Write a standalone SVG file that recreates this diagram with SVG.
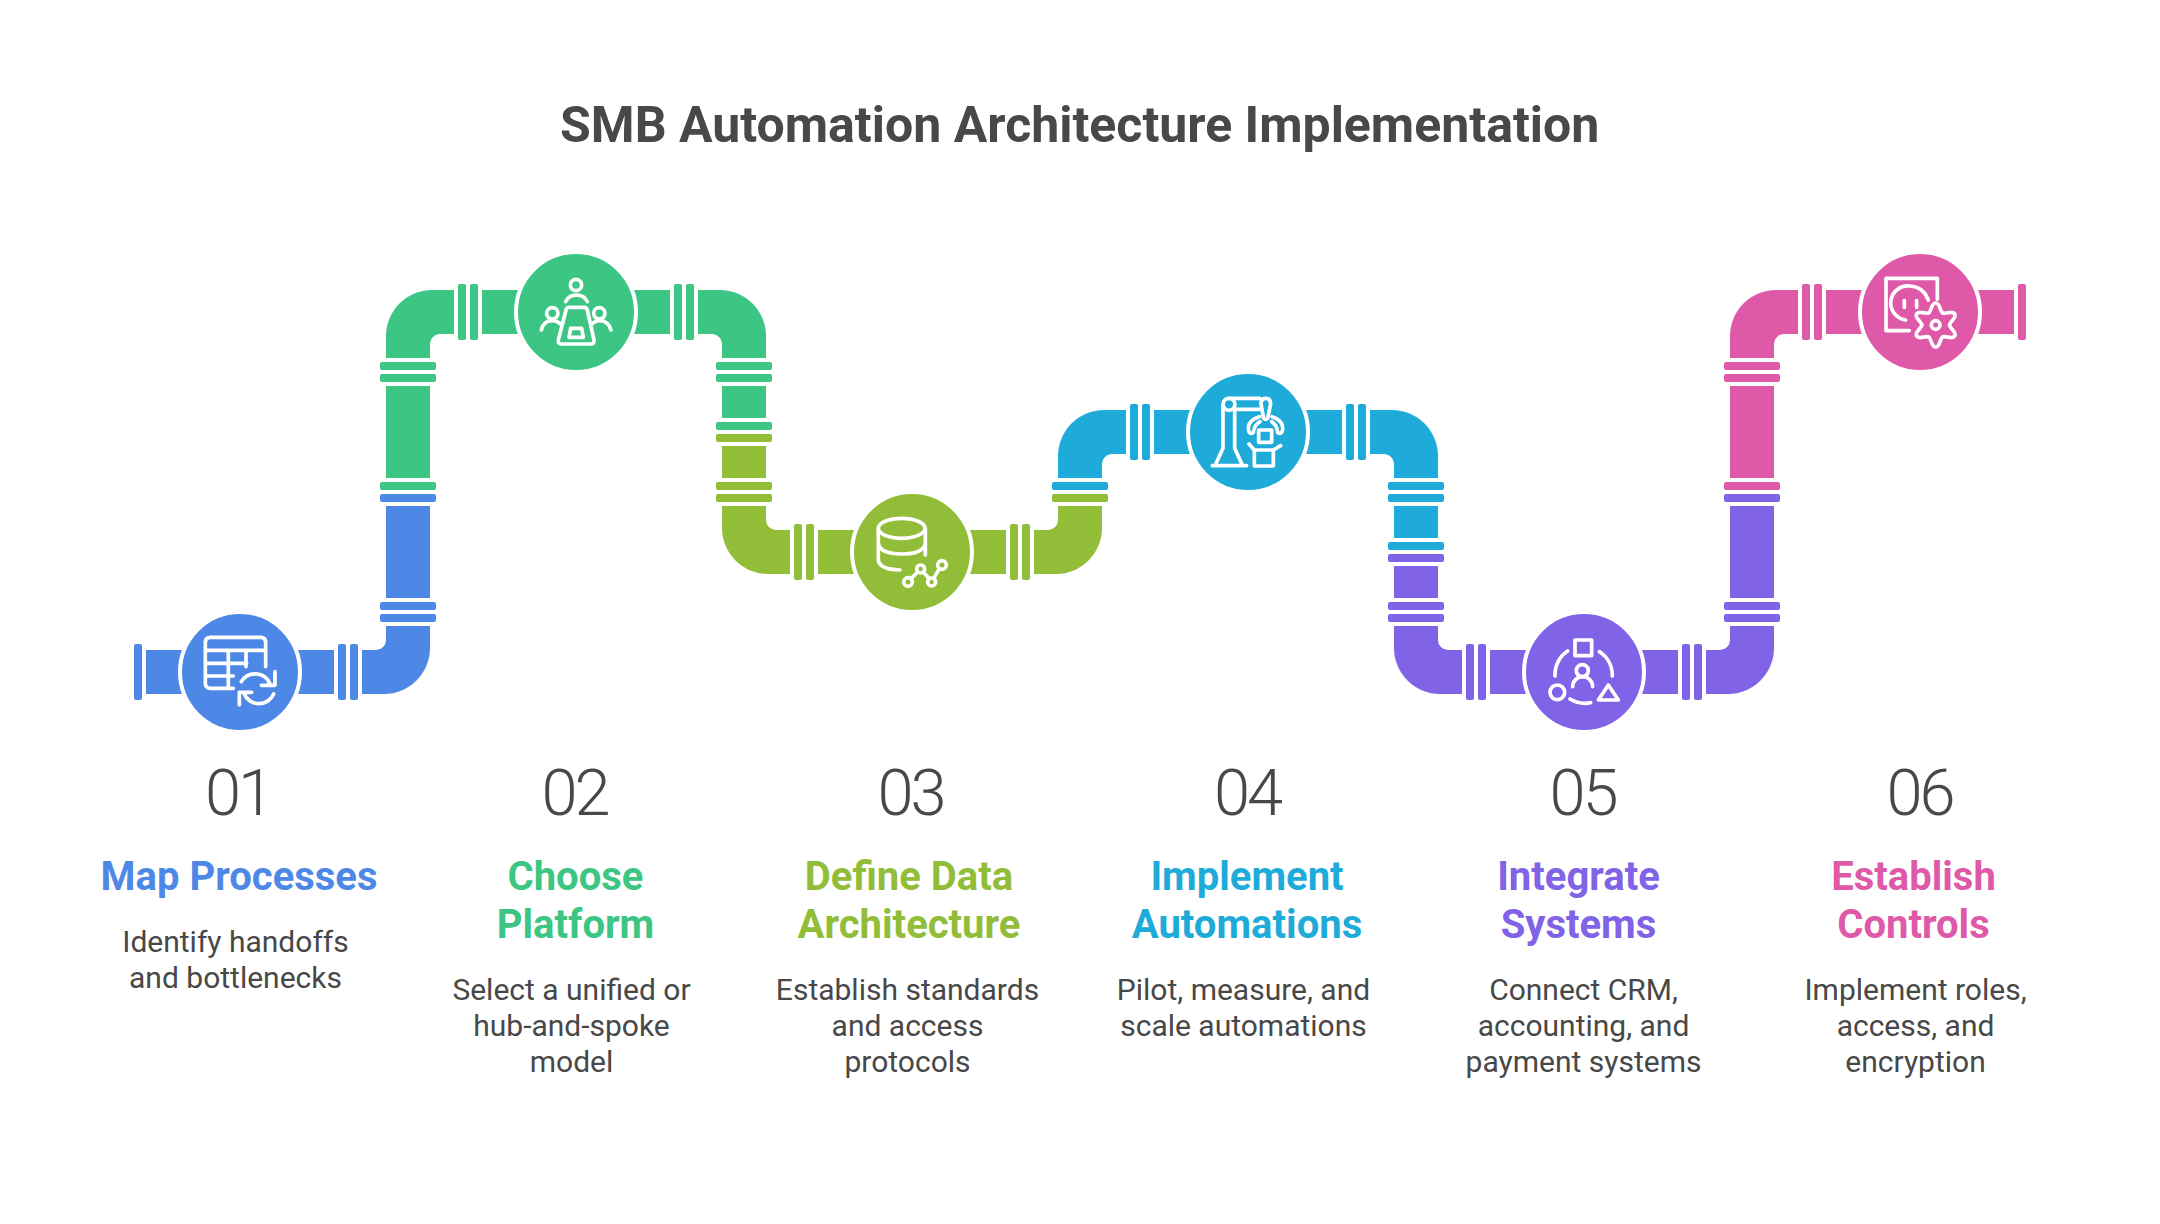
<svg xmlns="http://www.w3.org/2000/svg" xmlns:xlink="http://www.w3.org/1999/xlink" width="2160" height="1224" viewBox="0 0 2160 1224">
<style>
text{font-family:Roboto,"Liberation Sans",sans-serif;text-anchor:middle}
.title{font-size:50px;font-weight:700;fill:#484848}
.num{font-size:65px;font-weight:300;fill:#484848;letter-spacing:-3px}
.hd{font-size:40px;font-weight:700}
.bd{font-size:30px;font-weight:400;fill:#484848}
.ring{stroke:#fff;stroke-width:4}
.ic{fill:none;stroke:#fff;stroke-width:11;stroke-linecap:round;stroke-linejoin:round}
.c1{fill:#4e88e7}.c2{fill:#3cc583}.c3{fill:#92bd39}.c4{fill:#1eabda}.c5{fill:#8063e6}.c6{fill:#de5aa8}
.v{width:56px;height:8px;rx:2px}
.h{width:8px;height:56px;rx:2px}
</style>
<defs><path id="lobe" d="M208 192.1C216.7 187.1 214 165 227 165C240 165 237.3 187.1 246 192.1"/></defs>
<rect width="2160" height="1224" fill="#fff"/>
<text class="title" x="1079.7" y="142">SMB Automation Architecture Implementation</text>
<g id="connectors">
<g class="c1">
<rect class="h" x="134" y="644"/>
<rect x="146" y="650" width="188" height="44"/>
<rect class="h" x="338" y="644"/><rect class="h" x="350" y="644"/>
<path d="M362 650H376A10 10 0 0 0 386 640V626H430V648A46 46 0 0 1 384 694H362Z"/>
<rect class="v" x="380" y="614"/><rect class="v" x="380" y="602"/>
<rect x="386" y="506" width="44" height="92"/>
<rect class="v" x="380" y="494"/>
</g>
<g class="c2">
<rect class="v" x="380" y="482"/>
<rect x="386" y="386" width="44" height="92"/>
<rect class="v" x="380" y="374"/><rect class="v" x="380" y="362"/>
<path d="M454 290H432A46 46 0 0 0 386 336V358H430V344A10 10 0 0 1 440 334H454Z"/>
<rect class="h" x="458" y="284"/><rect class="h" x="470" y="284"/>
<rect x="482" y="290" width="188" height="44"/>
<rect class="h" x="674" y="284"/><rect class="h" x="686" y="284"/>
<path d="M698 290H720A46 46 0 0 1 766 336V358H722V344A10 10 0 0 0 712 334H698Z"/>
<rect class="v" x="716" y="362"/><rect class="v" x="716" y="374"/>
<rect x="722" y="386" width="44" height="32"/>
<rect class="v" x="716" y="422"/>
</g>
<g class="c3">
<rect class="v" x="716" y="434"/>
<rect x="722" y="446" width="44" height="32"/>
<rect class="v" x="716" y="482"/><rect class="v" x="716" y="494"/>
<path d="M722 506V528A46 46 0 0 0 768 574H790V530H776A10 10 0 0 1 766 520V506Z"/>
<rect class="h" x="794" y="524"/><rect class="h" x="806" y="524"/>
<rect x="818" y="530" width="188" height="44"/>
<rect class="h" x="1010" y="524"/><rect class="h" x="1022" y="524"/>
<path d="M1034 530H1048A10 10 0 0 0 1058 520V506H1102V528A46 46 0 0 1 1056 574H1034Z"/>
<rect class="v" x="1052" y="494"/>
</g>
<g class="c4">
<rect class="v" x="1052" y="482"/>
<path d="M1126 410H1104A46 46 0 0 0 1058 456V478H1102V464A10 10 0 0 1 1112 454H1126Z"/>
<rect class="h" x="1130" y="404"/><rect class="h" x="1142" y="404"/>
<rect x="1154" y="410" width="188" height="44"/>
<rect class="h" x="1346" y="404"/><rect class="h" x="1358" y="404"/>
<path d="M1370 410H1392A46 46 0 0 1 1438 456V478H1394V464A10 10 0 0 0 1384 454H1370Z"/>
<rect class="v" x="1388" y="482"/><rect class="v" x="1388" y="494"/>
<rect x="1394" y="506" width="44" height="32"/>
<rect class="v" x="1388" y="542"/>
</g>
<g class="c5">
<rect class="v" x="1388" y="554"/>
<rect x="1394" y="566" width="44" height="32"/>
<rect class="v" x="1388" y="602"/><rect class="v" x="1388" y="614"/>
<path d="M1394 626V648A46 46 0 0 0 1440 694H1462V650H1448A10 10 0 0 1 1438 640V626Z"/>
<rect class="h" x="1466" y="644"/><rect class="h" x="1478" y="644"/>
<rect x="1490" y="650" width="188" height="44"/>
<rect class="h" x="1682" y="644"/><rect class="h" x="1694" y="644"/>
<path d="M1706 650H1720A10 10 0 0 0 1730 640V626H1774V648A46 46 0 0 1 1728 694H1706Z"/>
<rect class="v" x="1724" y="614"/><rect class="v" x="1724" y="602"/>
<rect x="1730" y="506" width="44" height="92"/>
<rect class="v" x="1724" y="494"/>
</g>
<g class="c6">
<rect class="v" x="1724" y="482"/>
<rect x="1730" y="386" width="44" height="92"/>
<rect class="v" x="1724" y="374"/><rect class="v" x="1724" y="362"/>
<path d="M1798 290H1776A46 46 0 0 0 1730 336V358H1774V344A10 10 0 0 1 1784 334H1798Z"/>
<rect class="h" x="1802" y="284"/><rect class="h" x="1814" y="284"/>
<rect x="1826" y="290" width="188" height="44"/>
<rect class="h" x="2018" y="284"/>
</g>
</g>
<g id="node-1">
<circle class="c1 ring" cx="240" cy="672" r="60"/>
<g class="ic" transform="translate(170 610) scale(.3333)">
<path d="M190 235H122Q106 235 106 220V98Q106 82 122 82H272Q287 82 287 98V170M106 121H287M106 160H230M106 198H190M175 121V235M228 121V170"/>
<path d="M214 215A48 48 0 0 1 300 222M315 185V226H274M311 252A48 48 0 0 1 222 250M208 285V247H245"/>
</g>
<text class="num" x="238" y="815">01</text>
<text class="hd c1" x="239" y="889.5">Map Processes</text>
<text class="bd" x="235.5" y="951.5">Identify handoffs</text>
<text class="bd" x="235.5" y="987.5">and bottlenecks</text>
</g>
<g id="node-2">
<circle class="c2 ring" cx="576" cy="312" r="60"/>
<g class="ic" transform="translate(510 250) scale(.3333)">
<circle cx="198" cy="105" r="17"/><path d="M167 155A36 34 0 0 1 232 155"/>
<circle cx="127" cy="190" r="17"/><path d="M94 240Q100 212 127 212Q142 212 155 225"/>
<circle cx="268" cy="190" r="17"/><path d="M243 225Q255 212 268 212Q295 212 303 240"/>
<path d="M178 172H222Q230 172 232 180L252 270Q254 282 242 282H155Q143 282 145 270L168 180Q170 172 178 172Z"/>
<path d="M182 235H215L220 262H177Z"/>
</g>
<text class="num" x="574.5" y="815">02</text>
<text class="hd c2" x="575.5" y="889.5">Choose</text>
<text class="hd c2" x="575.5" y="937.5">Platform</text>
<text class="bd" x="571.5" y="999.5">Select a unified or</text>
<text class="bd" x="571.5" y="1035.5">hub-and-spoke</text>
<text class="bd" x="571.5" y="1071.5">model</text>
</g>
<g id="node-3">
<circle class="c3 ring" cx="912" cy="552" r="60"/>
<g class="ic" transform="translate(850 490) scale(.3333)">
<ellipse cx="155" cy="115" rx="70" ry="30"/>
<path d="M85 115V210Q88 238 150 240M226 115V195M85 160Q90 192 155 192Q220 192 226 160"/>
<circle cx="174" cy="276" r="13"/><circle cx="212" cy="237" r="12"/><circle cx="245" cy="276" r="12"/><circle cx="276" cy="225" r="13"/>
<path d="M183 266L203 246M220 247L238 266M251 265L268 236"/>
</g>
<text class="num" x="910.5" y="815">03</text>
<text class="hd c3" x="909" y="889.5">Define Data</text>
<text class="hd c3" x="909" y="937.5">Architecture</text>
<text class="bd" x="907.5" y="999.5">Establish standards</text>
<text class="bd" x="907.5" y="1035.5">and access</text>
<text class="bd" x="907.5" y="1071.5">protocols</text>
</g>
<g id="node-4">
<circle class="c4 ring" cx="1248" cy="432" r="60"/>
<g class="ic" transform="translate(1180 370) scale(.3333)">
<circle cx="147" cy="103" r="18"/>
<path d="M129 103V235L105 287M164 115V235L188 287M97 287H200M147 85H240M165 118H238"/>
<path d="M243 102Q243 85 257 85Q272 85 272 102L263 145Q257 152 251 145Z"/>
<path d="M238 140Q203 150 205 178Q207 195 220 188Q222 165 240 155M276 140Q310 150 308 178Q306 195 293 188Q291 165 275 155"/>
<path d="M236 180H275V217H236Z"/>
<path d="M207 222L223 240H280L302 227M223 240V288H280V240"/>
</g>
<text class="num" x="1247" y="815">04</text>
<text class="hd c4" x="1247" y="889.5">Implement</text>
<text class="hd c4" x="1247" y="937.5">Automations</text>
<text class="bd" x="1243.5" y="999.5">Pilot, measure, and</text>
<text class="bd" x="1243.5" y="1035.5">scale automations</text>
</g>
<g id="node-5">
<circle class="c5 ring" cx="1584" cy="672" r="60"/>
<g class="ic" transform="translate(1520 610) scale(.3333)">
<rect x="165" y="90" width="50" height="47"/>
<circle cx="187" cy="182" r="18"/>
<path d="M158 230A30 30 0 0 1 218 230"/>
<circle cx="112" cy="247" r="22"/>
<path d="M265 225L295 270H235Z"/>
<path d="M143 123A85 85 0 0 0 105 198M238 125A85 85 0 0 1 277 198M150 267Q180 285 212 278"/>
</g>
<text class="num" x="1582.5" y="815">05</text>
<text class="hd c5" x="1578.5" y="889.5">Integrate</text>
<text class="hd c5" x="1578.5" y="937.5">Systems</text>
<text class="bd" x="1583.5" y="999.5">Connect CRM,</text>
<text class="bd" x="1583.5" y="1035.5">accounting, and</text>
<text class="bd" x="1583.5" y="1071.5">payment systems</text>
</g>
<g id="node-6">
<circle class="c6 ring" cx="1920" cy="312" r="60"/>
<g class="ic" transform="translate(1860 250) scale(.3333)">
<path d="M148 242H78V85H232V148"/>
<path d="M137 210A50 50 0 0 1 150 108Q190 110 205 150"/>
<path d="M133 152V172M170 152V172"/>
<g transform="translate(227 225) scale(1.1) translate(-227 -225)" style="stroke-width:10">
<use xlink:href="#lobe"/>
<use xlink:href="#lobe" transform="rotate(60 227 225)"/>
<use xlink:href="#lobe" transform="rotate(120 227 225)"/>
<use xlink:href="#lobe" transform="rotate(180 227 225)"/>
<use xlink:href="#lobe" transform="rotate(240 227 225)"/>
<use xlink:href="#lobe" transform="rotate(300 227 225)"/>
</g>
<circle cx="227" cy="225" r="13"/>
</g>
<text class="num" x="1919.5" y="815">06</text>
<text class="hd c6" x="1913.5" y="889.5">Establish</text>
<text class="hd c6" x="1913.5" y="937.5">Controls</text>
<text class="bd" x="1915.5" y="999.5">Implement roles,</text>
<text class="bd" x="1915.5" y="1035.5">access, and</text>
<text class="bd" x="1915.5" y="1071.5">encryption</text>
</g>
</svg>
